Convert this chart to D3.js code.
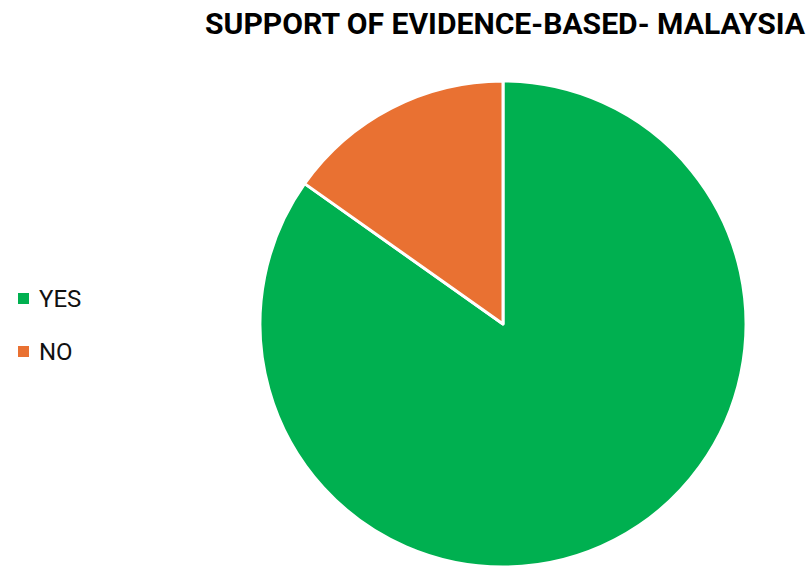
<!DOCTYPE html>
<html>
<head>
<meta charset="utf-8">
<script src="https://cdn.jsdelivr.net/npm/d3@7"></script>
<style>
  body { margin: 0; background: #fff; }
  svg { display: block; }
</style>
</head>
<body>
<svg id="chart" width="808" height="566"></svg>
<script>
// data
const categories = ["YES", "NO"];
const values = [84.8, 15.2];
const colors = ["#00B050", "#E97132"];

let width = 808, height = 566;
let svg = d3.select("#chart");

let cx = 503, cy = 324, radius = 243;

// title
svg.append("text")
  .attr("x", 205)
  .attr("y", 34)
  .attr("textLength", 600)
  .attr("lengthAdjust", "spacingAndGlyphs")
  .style("font-family", "Roboto, 'DejaVu Sans', sans-serif")
  .style("font-weight", "bold")
  .style("font-size", "30px")
  .style("fill", "#000")
  .text("SUPPORT OF EVIDENCE-BASED- MALAYSIA");

let color = d3.scaleOrdinal().domain(categories).range(colors);

let data = categories.map((c, i) => ({name: c, value: values[i]}));

let pie = d3.pie().sort(null).value(d => d.value);
let arc = d3.arc().innerRadius(0).outerRadius(radius);

let g = svg.append("g").attr("transform", `translate(${cx},${cy})`);
g.selectAll("path")
  .data(pie(data))
  .enter()
  .append("path")
  .attr("d", arc)
  .attr("fill", d => color(d.data.name))
  .attr("stroke", "#fff")
  .attr("stroke-width", 3)
  .attr("stroke-linejoin", "round");

// legend
let legend = svg.append("g").attr("transform", "translate(18,293)");
let items = legend.selectAll("g")
  .data(categories)
  .enter()
  .append("g")
  .attr("transform", (d, i) => `translate(0,${i * 53})`);

items.append("rect")
  .attr("x", 0)
  .attr("y", 0)
  .attr("width", 11)
  .attr("height", 11)
  .attr("fill", d => color(d));

items.append("text")
  .attr("x", 21)
  .attr("y", 14)
  .style("font-family", "Roboto, 'DejaVu Sans', sans-serif")
  .style("font-size", "24px")
  .style("fill", "#111")
  .text(d => d);
</script>
</body>
</html>
